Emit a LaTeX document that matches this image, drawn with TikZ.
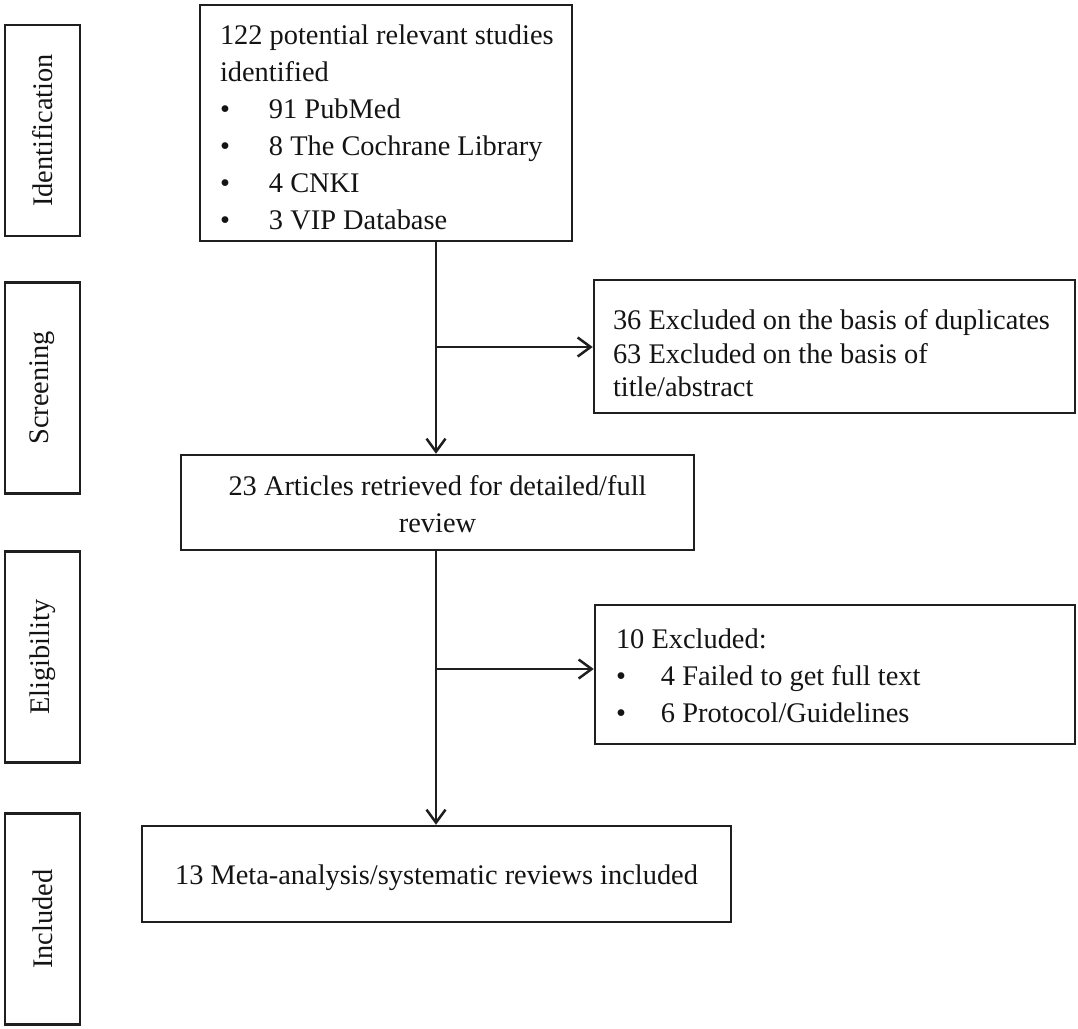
\documentclass[tikz,border=0pt]{standalone}
\usepackage{fontspec}
\setmainfont{Liberation Serif}
\usetikzlibrary{arrows.meta}
\newcommand{\lblock}[2]{\makebox[#1][l]{\begin{tabular}{@{}l@{}}#2\end{tabular}}}
\newcommand{\bul}[1]{\makebox[#1][l]{\textbullet}}
\newcommand{\lowered}[2]{\raisebox{-#1}[\height][\depth]{#2}}
\begin{document}
\begin{tikzpicture}[x=1pt,y=-1pt,
  box/.style={draw=black!88, line width=2.5pt, inner sep=0pt, text=black!92,
    font=\fontsize{28.4pt}{37pt}\selectfont},
  side/.style={box, rotate=90, minimum width=211pt, minimum height=75pt},
  arr/.style={draw=black!88, line width=2.5pt,
    -{Straight Barb[length=13pt,width=19pt,line width=2.5pt]}}]
\useasboundingbox (0,0) rectangle (1078,1028);
% stage labels
\node[side] (sid) at (42.5,130.5) {Identification};
\node[side] (sscr) at (42.5,388) {Screening};
\node[side] (seli) at (42.5,657) {Eligibility};
\node[side] (sinc) at (42.5,919) {Included};
% main boxes
\node[box, minimum width=372pt, minimum height=236pt]
  (ident) at (386,123)
  {\lowered{7pt}{\lblock{332pt}{122 potential relevant studies\\identified\\
   \bul{49pt}91 PubMed\\
   \bul{49pt}8 The Cochrane Library\\
   \bul{49pt}4 CNKI\\
   \bul{49pt}3 VIP Database}}};
\node[box, minimum width=481pt, minimum height=133pt,
  font=\fontsize{28.4pt}{33.5pt}\selectfont]
  (excl1) at (834.5,346.5)
  {\lowered{10pt}{\lblock{443pt}{36 Excluded on the basis of duplicates\\63 Excluded on the basis of\\title/abstract}}};
\node[box, minimum width=513pt, minimum height=95pt, align=center]
  (full) at (437.5,502.5)
  {\lowered{4pt}{\begin{tabular}{@{}c@{}}23 Articles retrieved for detailed/full\\review\end{tabular}}};
\node[box, minimum width=480pt, minimum height=139pt]
  (excl2) at (835,674.5)
  {\lowered{4pt}{\lblock{438pt}{10 Excluded:\\
   \bul{45pt}4 Failed to get full text\\
   \bul{45pt}6 Protocol/Guidelines}}};
\node[box, minimum width=589pt, minimum height=96pt]
  (incl) at (436.5,874)
  {\lowered{4pt}{13 Meta-analysis/systematic reviews included}};
% connectors
\coordinate (spine) at (436,0);
\coordinate (br1) at (436,347);
\coordinate (br2) at (436,669);
\draw[arr] (ident.south -| spine) -- (full.north -| spine);
\draw[arr] (br1) -- (excl1.west |- br1);
\draw[arr] (full.south -| spine) -- (incl.north -| spine);
\draw[arr] (br2) -- (excl2.west |- br2);
\end{tikzpicture}
\end{document}
